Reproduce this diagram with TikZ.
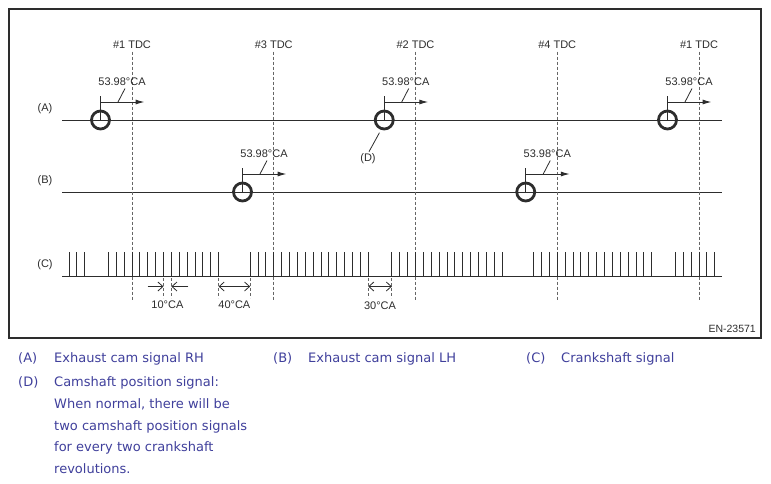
\documentclass[tikz,border=0pt]{standalone}
\usepackage{fontspec}
\setmainfont{Liberation Sans}
\newfontfamily\legendfont{DejaVu Sans}
\usepackage{xcolor}
\usetikzlibrary{calc}
\usetikzlibrary{positioning}
\usetikzlibrary{arrows.meta}

\definecolor{legendblue}{RGB}{64,64,156}
\definecolor{inkgray}{RGB}{45,45,45}

\begin{document}
\begin{tikzpicture}[x=1pt,y=-1pt,
  txt/.style={font=\fontsize{11}{13}\selectfont,inner sep=0pt,text=inkgray},
  leg/.style={font=\legendfont\fontsize{13}{15}\selectfont,inner sep=0pt,text=legendblue,anchor=base west},
  sig/.style={line width=1pt,draw=inkgray},
  tdc/.style={line width=0.9pt,draw=black!60,dash pattern=on 3pt off 2pt},
  pulse/.style={line width=2.8pt,draw=inkgray},
  dimline/.style={line width=0.8pt,draw=inkgray,>={Straight Barb[length=5pt,width=9pt]}},
  arrowup/.style={-{Latex[length=9pt,width=5pt]}}]

  \path [fill=white] (0,0) rectangle (771,483);
  \useasboundingbox (0,0) rectangle (771,483);
  \draw [line width=1.2pt,inkgray] (9,9) rectangle (761,338);

  % signal lines
  \node [txt] (labA) at (45,109) {(A)};
  \node [txt] (labB) at (45,181) {(B)};
  \node [txt] (labC) at (45,265) {(C)};
  \foreach \y/\n in {120/A,192/B,276/C} {
    \coordinate (\n0) at (62,\y);
    \coordinate (\n1) at (722,\y);
    \draw [sig] (\n0) -- (\n1);
  }

  % TDC marks
  \foreach \t/\c [count=\k] in {0/1,1/3,2/2,3/4,4/1} {
    \node [txt] (tdc\k) at (132+141.75*\t,44.5) {\#\c\ TDC};
    \draw [tdc] (tdc\k.south) ++(0,3) -- (132+141.75*\t,300);
  }

  % crankshaft teeth, 10 deg apart
  \foreach \a/\b in {-8/-6,-3/11,15/30,33/47,51/66,69/74} {
    \foreach \i in {\a,...,\b}
      \draw [sig] ({132+7.875*(\i)},276) -- ++(0,-24);
  }

  % cam pulses
  \foreach \cx/\cy/\nm in {100.5/120/a1,384.25/120/a2,667.5/120/a3,242.5/192/b1,525.75/192/b2} {
    \coordinate (\nm) at (\cx,\cy);
    \draw [pulse] (\nm) circle (9pt);
    \draw [sig] (\nm) -- ++(0,-24);
    \draw [sig,arrowup] ($(\nm)+(0,-18)$) -- ++(44,0);
    \node [txt] (deg\nm) at ($(\nm)+(21.5,-38)$) {53.98°CA};
    \draw [sig,line width=0.8pt] ($(\nm)+(17.5,-18)$) -- ($(\nm)+(24.5,-31.5)$);
  }

  \node [txt] (labD) at (368,159) {(D)};
  \draw [sig,line width=0.8pt] ($(a2)+(-4.8,12.7)$) -- ([shift={(1,-2)}]labD.north);

  % angle dimensions
  \foreach \i in {4,5,11,15,30,33} {
    \coordinate (t\i) at ({132+7.875*\i},276);
    \draw [tdc] (t\i) ++(0,2) -- ++(0,20);
  }
  \draw [dimline,->] ($(t4)+(-16,10.5)$) -- ($(t4)+(0,10.5)$);
  \draw [dimline,->] ($(t5)+(17,10.5)$) -- ($(t5)+(0,10.5)$);
  \draw [dimline,<->] ($(t11)+(0,10.5)$) -- ($(t15)+(0,10.5)$);
  \draw [dimline,<->] ($(t30)+(0,10.5)$) -- ($(t33)+(0,10.5)$);
  \node [txt] (dim10) at ($(t4)!0.5!(t5)+(0,29)$) {10°CA};
  \node [txt] (dim40) at ($(t11)!0.5!(t15)+(0,29)$) {40°CA};
  \node [txt] (dim30) at ($(t30)!0.5!(t33)+(0,30)$) {30°CA};

  \node [txt,anchor=east,font=\fontsize{10.5}{12}\selectfont] (code) at (756,329) {EN-23571};

  % legend
  \node [leg] (keyA) at (18,362.7) {(A)};
  \node [leg] (keyAt) at (54,362.7) {Exhaust cam signal RH};
  \node [leg] (keyB) at (273,362.7) {(B)};
  \node [leg] (keyBt) at (308,362.7) {Exhaust cam signal LH};
  \node [leg] (keyC) at (526,362.7) {(C)};
  \node [leg] (keyCt) at (561,362.7) {Crankshaft signal};
  \node [leg] (keyD) at (18,386.7) {(D)};
  \foreach \ln [count=\j from 0] in {{Camshaft position signal:},{When normal, there will be},{two camshaft position signals},{for every two crankshaft},{revolutions.}}
    \node [leg] (keyD\j) at (54,386.7+21.7*\j) {\ln};

\end{tikzpicture}
\end{document}
